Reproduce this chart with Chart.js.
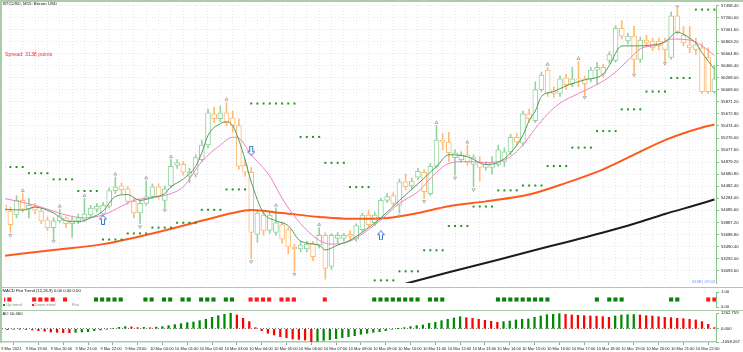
<!DOCTYPE html>
<html>
<head>
<meta charset="utf-8">
<title>BTCUSD M15</title>
<script src="https://cdn.jsdelivr.net/npm/chart.js@4.4.1/dist/chart.umd.min.js"></script>
<style>
  html, body { margin: 0; padding: 0; background: #fff; }
  #wrap { position: relative; width: 743px; height: 352px; overflow: hidden; background: #fff;
          font-family: "Liberation Sans", Arial, sans-serif; }
  #wrap canvas { position: absolute; left: 0; }
  .txt { position: absolute; white-space: nowrap; line-height: 1; }
  .rule { position: absolute; background: #a8cda8; }
  .sq { position: absolute; width: 2px; height: 2px; }
</style>
</head>
<body>
<div id="wrap">
  <canvas id="mainChart" width="743" height="288" style="top:0"></canvas>
  <canvas id="macdChart" width="743" height="23" style="top:288px"></canvas>
  <canvas id="aoChart" width="743" height="41" style="top:311px"></canvas>

  <div class="rule" style="left:0;top:0;width:743px;height:1.5px"></div>
  <div class="rule" style="left:0;top:0;width:2px;height:343px"></div>
  <div class="rule" style="left:0;top:286.5px;width:743px;height:1.5px"></div>
  <div class="rule" style="left:0;top:309.5px;width:743px;height:1.5px"></div>

  <div class="txt" style="left:3px;top:2px;font-size:4.3px;color:#111">BTCUSD, M15:  Bitcoin USD</div>
  <div class="txt" style="left:5px;top:51.6px;font-size:5.3px;color:#ff2a2a">Spread: 3138 points</div>
  <div class="txt" style="right:28px;top:280px;font-size:4.2px;color:#6f8ff5">3138 | 07:02</div>
  <div class="txt" style="left:2.5px;top:289.3px;font-size:4.2px;color:#111">MACD Flat Trend (12,26,9) 0.00 0.00 0.00</div>
  <div class="sq" style="left:3.4px;top:304px;background:#138a13"></div>
  <div class="txt" style="left:6.2px;top:303.2px;font-size:4.1px;color:#8a8a8a">Up trend</div>
  <div class="sq" style="left:31.8px;top:304px;background:#ff1a1a"></div>
  <div class="txt" style="left:34.6px;top:303.2px;font-size:4.1px;color:#8a8a8a">Down trend</div>
  <div class="txt" style="left:72px;top:303.2px;font-size:4.1px;color:#8a8a8a">Flat</div>
  <div class="txt" style="left:2.5px;top:312.3px;font-size:4.2px;color:#111">AO 10.460</div>
</div>

<script>
// BTCUSD M15 chart - candles, MAs, SAR (H1), fractals, MACD flat trend, AO

// x-axis hour labels (one every 4 bars, bar 0 = 9 Mar 18:00)
const hourLabels = ['9 Mar 2021', '9 Mar 19:00', '9 Mar 20:00', '9 Mar 21:00', '9 Mar 22:00', '9 Mar 23:00',
    '10 Mar 00:00', '10 Mar 01:00', '10 Mar 02:00', '10 Mar 03:00', '10 Mar 04:00', '10 Mar 05:00',
    '10 Mar 06:00', '10 Mar 07:00', '10 Mar 08:00', '10 Mar 09:00', '10 Mar 10:00', '10 Mar 11:00',
    '10 Mar 12:00', '10 Mar 13:00', '10 Mar 14:00', '10 Mar 15:00', '10 Mar 16:00', '10 Mar 17:00',
    '10 Mar 18:00', '10 Mar 19:00', '10 Mar 20:00', '10 Mar 21:00', '10 Mar 22:00'];

// price axis labels
const priceTicks = [53093.6, 53292.0, 53490.4, 53688.8, 53887.2, 54085.6, 54284.0, 54482.4, 54680.8,
    54879.2, 55077.6, 55276.0, 55474.4, 55672.8, 55871.2, 56069.6, 56268.0, 56466.4, 56664.8,
    56863.2, 57061.6, 57260.0, 57458.4];

// OHLC, 116 bars
const open = [
    54169, 54073, 54009, 54249, 54105, 54153, 54073, 53929, 53801, 53913,
    53961, 53865, 53913, 53929, 54009, 54105, 54025, 54153, 54409, 54489,
    54441, 54233, 54041, 54201, 54313, 54473, 54249, 54489, 54825, 54841,
    54649, 54681, 54921, 55161, 55673, 55593, 55689, 55609, 55481, 54825,
    54713, 53689, 54009, 53753, 53721, 53849, 53769, 53481, 53449, 53449,
    53529, 53513, 53673, 53161, 53625, 53625, 53689, 53609, 53769, 54009,
    53881, 53961, 54249, 54329, 54169, 54553, 54489, 54633, 54713, 54361,
    54809, 55241, 55209, 54953, 54921, 55001, 54841, 54873, 54793, 54793,
    54841, 54889, 55049, 55289, 55193, 55673, 55561, 56073, 56393, 56057,
    56009, 56265, 56169, 56249, 56249, 56249, 56393, 56441, 56553, 56553,
    57081, 56873, 56953, 56569, 56889, 56873, 56873, 56873, 56601, 57289,
    56969, 56809, 56809, 56761, 56601, 56041];
const high = [
    54233, 54137, 54329, 54361, 54281, 54201, 54121, 53977, 53961, 54105,
    53977, 53977, 54025, 54281, 54169, 54201, 54217, 54457, 54633, 54537,
    54473, 54281, 54249, 54569, 54521, 54521, 54489, 54921, 54921, 54889,
    54777, 55001, 55241, 55753, 55785, 55801, 55865, 55721, 55593, 54921,
    54793, 54089, 54073, 54057, 54121, 53897, 53801, 53529, 53577, 53577,
    53577, 53801, 53721, 53705, 53721, 53705, 53753, 53865, 54041, 54089,
    54057, 54281, 54361, 54377, 54601, 54681, 54617, 54777, 54761, 54857,
    55481, 55353, 55369, 55081, 55049, 55161, 55001, 54969, 54889, 54969,
    55161, 55113, 55337, 55353, 55721, 55753, 56201, 56361, 56441, 56121,
    56297, 56329, 56441, 56537, 56297, 56441, 56521, 56489, 56697, 57129,
    57209, 57001, 57113, 56937, 56969, 56921, 56921, 56921, 57353, 57417,
    57113, 57113, 56921, 56841, 56761, 56473];
const low = [
    54025, 53721, 53961, 54057, 53961, 54025, 53865, 53753, 53609, 53881,
    53801, 53641, 53865, 53897, 53961, 54057, 53977, 54121, 54361, 54361,
    54185, 53961, 53865, 54169, 54281, 54265, 54121, 54457, 54777, 54665,
    54537, 54633, 54889, 55113, 55529, 55545, 55481, 55369, 54761, 54649,
    53289, 53561, 53673, 53705, 53673, 53545, 53369, 53081, 53401, 53401,
    53257, 53465, 52953, 53113, 53545, 53577, 53609, 53577, 53737, 53801,
    53833, 53929, 54217, 54153, 54041, 54425, 54441, 54585, 54281, 54329,
    54777, 55081, 54889, 54665, 54873, 54825, 54473, 54569, 54745, 54681,
    54809, 54809, 55001, 55161, 55145, 55545, 55529, 56041, 55961, 55945,
    55961, 56073, 56121, 56121, 55977, 56201, 56153, 56281, 56505, 56521,
    56905, 56825, 56345, 56521, 56777, 56713, 56729, 56537, 56569, 56985,
    56793, 56681, 56649, 56009, 56009, 56009];
const close = [
    54073, 53849, 54249, 54105, 54169, 54089, 53913, 53801, 53913, 53993,
    53865, 53929, 53961, 54025, 54121, 54153, 54169, 54409, 54473, 54425,
    54233, 54041, 54201, 54313, 54473, 54313, 54441, 54809, 54873, 54713,
    54713, 54953, 55161, 55689, 55593, 55689, 55529, 55481, 54809, 54713,
    53721, 54041, 53753, 54009, 53881, 53609, 53481, 53449, 53513, 53529,
    53321, 53673, 53129, 53673, 53673, 53673, 53657, 53833, 54009, 53849,
    54009, 54249, 54313, 54201, 54553, 54473, 54569, 54729, 54393, 54809,
    55241, 55209, 55033, 55033, 55001, 54873, 54953, 54793, 54841, 54873,
    55081, 55049, 55289, 55209, 55673, 55593, 56073, 56313, 56009, 56009,
    56249, 56153, 56249, 56233, 56169, 56393, 56441, 56329, 56649, 57081,
    56953, 56953, 56569, 56889, 56841, 56761, 56793, 56729, 57289, 57033,
    56841, 56761, 56729, 56041, 56041, 56249];

// moving averages, read at these bar positions
const fastBars = [0, 3, 5, 8, 10, 12, 14, 16, 18, 20, 22, 24, 26, 27, 29, 31, 32, 33, 35, 36,
    37, 38, 39, 40, 42, 44, 46, 48, 51, 52, 54, 56, 59, 61, 64, 67, 70, 72, 75, 78,
    80, 82, 84, 85, 86, 87, 89, 91, 94, 97, 98, 100, 102, 105, 107, 109, 110, 111, 112, 113, 115];
const maFast = [54105, 54089, 54137, 54041, 53913, 53897, 53961, 54073, 54313, 54345,
    54249, 54297, 54361, 54473, 54601, 54809, 55033, 55321, 55513, 55545,
    55481, 55241, 54921, 54553, 54041, 53913, 53833, 53577, 53513, 53433,
    53513, 53593, 53801, 53961, 54249, 54521, 54809, 55001, 54969, 54841,
    54873, 55033, 55321, 55561, 55721, 55961, 56041, 56137, 56233, 56329,
    56473, 56793, 56793, 56809, 56857, 57017, 56985, 56921, 56841, 56681, 56409];

const midBars = [0, 5, 10, 13, 16, 19, 21, 24, 27, 29, 32, 35, 37, 38, 40, 43, 45, 48, 51, 53,
    56, 59, 61, 64, 67, 70, 72, 75, 78, 80, 82, 84, 86, 88, 90, 93, 95, 98, 101, 103,
    106, 108, 111, 113, 115];
const maMid = [54281, 54169, 54009, 53961, 54009, 54153, 54249, 54297, 54361, 54473,
    54889, 55161, 55289, 55273, 55001, 54649, 54281, 53865, 53593, 53529,
    53577, 53769, 53929, 54201, 54393, 54713, 54857, 54889, 54873, 54889,
    54969, 55161, 55433, 55673, 55849, 56009, 56105, 56281, 56553, 56745,
    56809, 56905, 56889, 56793, 56633];

const slowBars = [0, 8, 16, 24, 32, 37, 40, 45, 51, 56, 62, 67, 72, 78, 85, 91, 97, 102, 107, 113, 115];
const maSlow = [53337, 53433, 53529, 53705, 53913, 54041, 54089, 54041, 53977, 53945,
    53961, 54041, 54153, 54233, 54345, 54537, 54761, 55001, 55241, 55449, 55497];

const longBars = [62, 66, 72, 80, 86, 91, 97, 102, 107, 113, 115];
const maLong = [52793, 52905, 53065, 53273, 53433, 53561, 53721, 53865, 54025, 54201, 54265];

// H1 parabolic SAR, one level per hour (4 bars)
const sarLevels = [54798, 54697, 54596, 54404, 53604, 53705, 53801, 53881, 54094, 54430,
    55844, 55844, 55294, 54868, 54468, 52932, 53081, 53428, 53828, 54148,
    54414, 54494, 54814, 55118, 55390, 55748, 56041, 56265, 57390];

// fractal marks
const fracUpBars = [3, 9, 13, 18, 23, 27, 36, 44, 51, 70, 75, 88, 93, 109];
const fracUp = [54409, 54153, 54329, 54681, 54617, 54969, 55913, 54169, 53849, 55529, 55209, 56489, 56585, 57449];
const fracDnBars = [1, 8, 22, 26, 40, 47, 64, 68, 73, 76, 94, 102, 107];
const fracDn = [53673, 53577, 53817, 54089, 53241, 53033, 53993, 54233, 54617, 54425, 55945, 56313, 56505];

// signal arrows
const arrowUpBars = [16, 61];
const arrowUp = [53929, 53673];
const arrowDnBars = [40];
const arrowDn = [55065];

// MACD flat trend state per bar: 1 up, -1 down, 0 flat
const trend = [
    -1, -1, 0, 0, 0, -1, -1, -1, -1, 0,
    -1, 0, 0, 0, 0, 1, 1, 1, 1, 1,
    0, 0, 0, 1, 1, 0, 1, 1, 0, 1,
    1, 0, 1, 1, 1, 0, 1, 1, 0, 0,
    -1, -1, -1, -1, 0, -1, -1, -1, 0, 0,
    0, 0, -1, 0, 0, 0, 0, 0, 0, 0,
    1, 1, 1, 1, 1, 1, 1, 1, 0, 1,
    1, 1, 0, 0, 0, 0, 0, 0, 0, 0,
    1, 1, 1, 1, 1, 1, 1, 1, 1, 0,
    0, 0, 0, 0, 0, 0, 1, 0, 1, 1,
    1, 0, 0, 0, 0, 0, 0, 0, 1, 1,
    0, 0, 0, 0, -1, -1];

// Awesome Oscillator
const ao = [
    -40, -70, -30, -10, -60, -96, -149, -200, -256, -283,
    -309, -320, -283, -256, -229, -149, -96, -30, 37, 117,
    171, 144, 91, 110, 80, 130, 171, 251, 331, 411,
    491, 544, 651, 757, 917, 1051, 1157, 1262.759, 1104, 837,
    571, 91, -150, -360, -500, -630, -710, -820, -850, -900,
    -1058.267, -990, -930, -870, -790, -710, -630, -550, -440, -360,
    -280, -230, -150, -40, 10, 90, 170, 250, 300, 440,
    520, 650, 760, 860, 970, 891, 837, 757, 677, 597,
    517, 571, 624, 704, 757, 784, 917, 1024, 1131, 1157,
    1210, 1157, 1104, 1077, 1051, 1024, 1010, 971, 917, 1024,
    1104, 1131, 1140, 1104, 1051, 1024, 971, 917, 891, 837,
    811, 757, 704, 571, 357, 91];

// ---- drawing ----

Chart.defaults.font.family = '"Liberation Sans", Arial, sans-serif';
Chart.defaults.font.size = 4.2;

const X_MIN = 0.13, X_MAX = 115.26;
const AXIS_W = 27;
const GRID = '#e6e6f0';
const AXIS_GREEN = '#86c486';
const BULL = '#93d49e';
const BEAR = '#ffbb74';

const pts = (xs, ys) => xs.map((x, k) => ({ x, y: ys[k] }));
const bars = open.map((_, i) => i);
const candleColor = bars.map(i => close[i] >= open[i] ? BULL : BEAR);

function arrowImage(up) {
    const c = document.createElement('canvas');
    c.width = 8; c.height = 10;
    const g = c.getContext('2d');
    if (!up) { g.translate(0, 10); g.scale(1, -1); }
    g.beginPath();
    g.moveTo(4, 0.5); g.lineTo(7.5, 4.2); g.lineTo(5.5, 4.2); g.lineTo(5.5, 9.5);
    g.lineTo(2.5, 9.5); g.lineTo(2.5, 4.2); g.lineTo(0.5, 4.2); g.closePath();
    g.fillStyle = '#ffffff'; g.fill();
    g.strokeStyle = '#2e6fd2'; g.lineWidth = 1; g.stroke();
    return c;
}

function fixRight(scale) {
    scale.width = AXIS_W;
    scale.paddingTop = 0;
    scale.paddingBottom = 0;
}

function rightAxis(min, max, ticks, digits, grid) {
    return {
        position: 'right', min, max,
        afterBuildTicks: axis => { axis.ticks = ticks.map(v => ({ value: v })); },
        afterFit: fixRight,
        ticks: { color: '#1a1a1a', padding: 2, font: { size: 4.2 }, callback: v => v.toFixed(digits) },
        grid: Object.assign({ drawOnChartArea: false, drawTicks: true, tickLength: 3, tickColor: AXIS_GREEN }, grid || {}),
        border: { display: true, color: AXIS_GREEN, width: 1, dash: [1, 2] }
    };
}

const common = {
    responsive: false,
    animation: false,
    events: [],
    plugins: { legend: { display: false }, tooltip: { enabled: false } }
};

// main price panel
new Chart(document.getElementById('mainChart'), {
    type: 'bar',
    data: {
        datasets: [
            { type: 'line', data: pts(arrowUpBars, arrowUp), showLine: false, pointStyle: arrowImage(true), pointRadius: 4, order: 0 },
            { type: 'line', data: pts(arrowDnBars, arrowDn), showLine: false, pointStyle: arrowImage(false), pointRadius: 4, order: 0 },
            { type: 'line', data: pts(fracUpBars, fracUp), showLine: false, pointStyle: 'triangle', pointRadius: 1.8,
              pointBorderColor: '#a0a0a0', pointBackgroundColor: 'rgba(0,0,0,0)', pointBorderWidth: 0.8, order: 0 },
            { type: 'line', data: pts(fracDnBars, fracDn), showLine: false, pointStyle: 'triangle', pointRotation: 180, pointRadius: 1.8,
              pointBorderColor: '#a0a0a0', pointBackgroundColor: 'rgba(0,0,0,0)', pointBorderWidth: 0.8, order: 0 },
            { type: 'line', data: bars.map(i => ({ x: i, y: sarLevels[Math.floor(i / 4)] })), showLine: false,
              pointStyle: 'rect', pointRadius: 1.4, pointBackgroundColor: '#1f961f', pointBorderWidth: 0, order: 0 },
            { type: 'line', data: pts(fastBars, maFast), borderColor: '#4f9d5b', borderWidth: 1, pointRadius: 0,
              cubicInterpolationMode: 'monotone', clip: 0, order: 1 },
            { type: 'line', data: pts(midBars, maMid), borderColor: '#f47fc3', borderWidth: 1, pointRadius: 0,
              cubicInterpolationMode: 'monotone', clip: 0, order: 2 },
            { type: 'line', data: pts(slowBars, maSlow), borderColor: '#ff5a1e', borderWidth: 2, pointRadius: 0,
              cubicInterpolationMode: 'monotone', clip: 0, order: 3 },
            { type: 'line', data: pts(longBars, maLong), borderColor: '#1c1c1c', borderWidth: 2, pointRadius: 0,
              cubicInterpolationMode: 'monotone', clip: 0, order: 3 },
            { data: bars.map(i => ({ x: i, y: [open[i], close[i]] })), backgroundColor: '#ffffff',
              borderColor: candleColor, borderWidth: 1, borderSkipped: false, barThickness: 5, grouped: false, order: 5 },
            { data: bars.map(i => ({ x: i, y: [low[i], high[i]] })), backgroundColor: candleColor,
              barThickness: 1, grouped: false, order: 6 }
        ]
    },
    options: Object.assign({}, common, {
        layout: { padding: { left: 2, top: 1, bottom: 1, right: 0 } },
        scales: {
            x: {
                type: 'linear', min: X_MIN, max: X_MAX, offset: false,
                afterBuildTicks: axis => {
                    const t = [];
                    for (let b = 2; b <= 114; b += 2) t.push({ value: b });
                    axis.ticks = t;
                },
                afterFit: s => { s.height = 0; s.paddingLeft = 0; s.paddingRight = 0; },
                ticks: { display: false },
                grid: { color: GRID, drawTicks: false },
                border: { display: false, dash: [1, 2] }
            },
            y: rightAxis(52889, 57466, priceTicks, 2, { drawOnChartArea: true, color: GRID })
        }
    })
});

// MACD flat trend panel
const trendIdx = bars.filter(i => trend[i] !== 0);
new Chart(document.getElementById('macdChart'), {
    type: 'line',
    data: {
        datasets: [{
            data: trendIdx.map(i => ({ x: i, y: 0.5 })),
            showLine: false, pointStyle: 'rect', pointRadius: 2.9, pointBorderWidth: 0,
            pointBackgroundColor: trendIdx.map(i => trend[i] > 0 ? '#0b800b' : '#ff1a1a')
        }]
    },
    options: Object.assign({}, common, {
        layout: { padding: { left: 2, top: 2, bottom: 2.7, right: 0 } },
        scales: {
            x: { type: 'linear', min: X_MIN, max: X_MAX, offset: false, display: false },
            y: rightAxis(0, 1, [0, 1], 2)
        }
    })
});

// Awesome Oscillator panel
new Chart(document.getElementById('aoChart'), {
    type: 'bar',
    data: {
        datasets: [{
            data: ao.map((v, i) => ({ x: i, y: v })),
            backgroundColor: ao.map((v, i) => (i > 0 && v > ao[i - 1]) ? '#008a00' : '#ff0000'),
            barThickness: 1.6, grouped: false
        }]
    },
    options: Object.assign({}, common, {
        layout: { padding: { left: 2, top: 2, bottom: 0, right: 0 } },
        scales: {
            x: {
                type: 'linear', min: X_MIN, max: X_MAX, offset: false,
                afterBuildTicks: axis => { axis.ticks = hourLabels.map((_, k) => ({ value: k * 4 })); },
                afterFit: s => { s.height = 10; s.paddingLeft = 0; s.paddingRight = 0; },
                ticks: {
                    color: '#222', font: { size: 4 }, padding: 1, align: 'start',
                    autoSkip: false, maxRotation: 0, minRotation: 0,
                    callback: v => hourLabels[Math.round(v / 4)]
                },
                grid: { drawOnChartArea: false, drawTicks: true, tickLength: 3, tickColor: '#9a9a9a' },
                border: { display: true, color: '#a8cda8', width: 1.5 }
            },
            y: rightAxis(-1058.267, 1262.759, [1262.759, 0, -1058.267], 3, {
                drawOnChartArea: true,
                color: ctx => (ctx.tick && ctx.tick.value === 0) ? '#777777' : 'rgba(0,0,0,0)'
            })
        }
    })
});
</script>
</body>
</html>
